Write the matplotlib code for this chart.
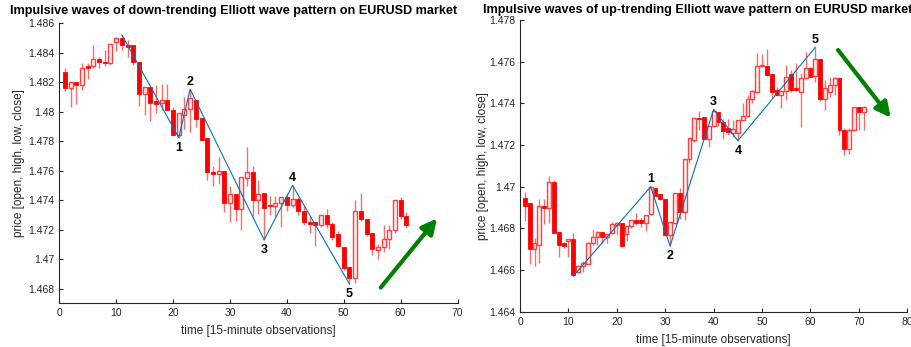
import numpy as np
import matplotlib
matplotlib.use("Agg")
import matplotlib.pyplot as plt

plt.rcParams['font.family'] = ['Liberation Sans', 'DejaVu Sans']

# EURUSD 15-minute candles, down-trending impulse
down_t = list(range(1, 62))
down_open = [1.4827, 1.4816, 1.4820, 1.4818, 1.4831, 1.4831, 1.4836, 1.4834, 1.4833, 1.4847,
             1.4850, 1.4845, 1.4845, 1.4834, 1.4812, 1.4817, 1.4807, 1.4806, 1.4808, 1.4801,
             1.4784, 1.4798, 1.4802, 1.4808, 1.4796, 1.4782, 1.4759, 1.4758, 1.4760, 1.4738,
             1.4744, 1.4734, 1.4755, 1.4759, 1.4740, 1.4745, 1.4737, 1.4736, 1.4738, 1.4742,
             1.4737, 1.4741, 1.4733, 1.4725, 1.4725, 1.4723, 1.4730, 1.4724, 1.4717, 1.4708,
             1.4695, 1.4687, 1.4733, 1.4727, 1.4718, 1.4706, 1.4708, 1.4714, 1.4720, 1.4740,
             1.4729]
down_high = [1.4830, 1.4820, 1.4820, 1.4833, 1.4833, 1.4845, 1.4837, 1.4842, 1.4846, 1.4851,
             1.48521, 1.4849, 1.4845, 1.4834, 1.4817, 1.4817, 1.4818, 1.4819, 1.4819, 1.4803,
             1.4799, 1.4810, 1.48153, 1.4808, 1.4796, 1.4782, 1.4763, 1.4769, 1.4760, 1.4750,
             1.4744, 1.4756, 1.4776, 1.4763, 1.4754, 1.4745, 1.4743, 1.4743, 1.4742, 1.4744,
             1.47501, 1.4742, 1.4737, 1.4729, 1.4725, 1.4730, 1.4734, 1.4725, 1.4719, 1.4708,
             1.4695, 1.4740, 1.4745, 1.4727, 1.4718, 1.4710, 1.4723, 1.4723, 1.4740, 1.4742,
             1.4732]
down_low = [1.4814, 1.4803, 1.4805, 1.4815, 1.4822, 1.4830, 1.4830, 1.4831, 1.4832, 1.4841,
            1.4842, 1.4837, 1.4832, 1.4804, 1.4798, 1.4794, 1.4799, 1.4801, 1.4801, 1.4784,
            1.47825, 1.4788, 1.4786, 1.4790, 1.4781, 1.4754, 1.4750, 1.4751, 1.4732, 1.4725,
            1.4726, 1.4720, 1.4750, 1.4729, 1.4731, 1.47131, 1.4730, 1.4729, 1.4722, 1.4733,
            1.4735, 1.4730, 1.4723, 1.4718, 1.4709, 1.4722, 1.4721, 1.4713, 1.4708, 1.4693,
            1.46832, 1.4684, 1.4726, 1.4716, 1.4703, 1.4700, 1.4705, 1.4707, 1.4718, 1.4727,
            1.4721]
down_close = [1.4816, 1.4820, 1.4818, 1.4830, 1.4830, 1.4836, 1.4834, 1.4833, 1.4846, 1.4850,
              1.4845, 1.4844, 1.4834, 1.4812, 1.4817, 1.4806, 1.4805, 1.4808, 1.4801, 1.4784,
              1.4799, 1.4802, 1.4809, 1.4795, 1.4781, 1.4759, 1.4758, 1.4760, 1.4738, 1.4744,
              1.4734, 1.4756, 1.4759, 1.4740, 1.4744, 1.4735, 1.4736, 1.4738, 1.4742, 1.4737,
              1.4741, 1.4733, 1.4725, 1.4724, 1.4723, 1.4730, 1.4724, 1.4715, 1.4709, 1.4694,
              1.4687, 1.4733, 1.4727, 1.4717, 1.4707, 1.4708, 1.4714, 1.4720, 1.4740, 1.4729,
              1.4723]
down_wave_t = [11, 21, 23, 36, 41, 51]
down_wave_p = [1.48521, 1.47825, 1.48153, 1.47131, 1.47501, 1.46832]
down_arrow_t = [56.5, 66.4]
down_arrow_p = [1.46808, 1.47277]

# EURUSD 15-minute candles, up-trending impulse
up_t = list(range(1, 72))
up_open = [1.46944, 1.46920, 1.46699, 1.46720, 1.46909, 1.46899, 1.47021, 1.46781, 1.46731, 1.46741,
           1.46750, 1.46592, 1.46619, 1.46629, 1.46731, 1.46760, 1.46784, 1.46760, 1.46779, 1.46816,
           1.46824, 1.46773, 1.46811, 1.46840, 1.46840, 1.46827, 1.46869, 1.46992, 1.46965, 1.46939,
           1.46768, 1.46827, 1.46971, 1.46880, 1.47131, 1.47224, 1.47331, 1.47333, 1.47227, 1.47291,
           1.47360, 1.47312, 1.47280, 1.47256, 1.47259, 1.47320, 1.47339, 1.47419, 1.47456, 1.47580,
           1.47579, 1.47541, 1.47464, 1.47440, 1.47461, 1.47539, 1.47472, 1.47456, 1.47520, 1.47568,
           1.47531, 1.47611, 1.47419, 1.47456, 1.47488, 1.47520, 1.47272, 1.47179, 1.47272, 1.47381,
           1.47358]
up_high = [1.46973, 1.46920, 1.46752, 1.46941, 1.46940, 1.47051, 1.47030, 1.46781, 1.46736, 1.46750,
           1.46779, 1.46624, 1.46643, 1.46736, 1.46792, 1.46789, 1.46784, 1.46773, 1.46832, 1.46832,
           1.46824, 1.46811, 1.46840, 1.46872, 1.46848, 1.46864, 1.47000, 1.46992, 1.46965, 1.46939,
           1.46832, 1.46971, 1.46992, 1.47131, 1.47232, 1.47328, 1.47365, 1.47333, 1.47291, 1.47371,
           1.47360, 1.47323, 1.47323, 1.47320, 1.47320, 1.47403, 1.47440, 1.47464, 1.47640, 1.47637,
           1.47659, 1.47541, 1.47480, 1.47464, 1.47584, 1.47560, 1.47592, 1.47544, 1.47648, 1.47573,
           1.47669, 1.47611, 1.47512, 1.47528, 1.47525, 1.47520, 1.47280, 1.47280, 1.47381, 1.47381,
           1.47387]
up_low = [1.46837, 1.46629, 1.46619, 1.46635, 1.46821, 1.46824, 1.46776, 1.46661, 1.46704, 1.46661,
          1.46571, 1.46584, 1.46592, 1.46629, 1.46720, 1.46720, 1.46728, 1.46728, 1.46773, 1.46768,
          1.46709, 1.46741, 1.46800, 1.46816, 1.46805, 1.46789, 1.46864, 1.46952, 1.46936, 1.46763,
          1.46715, 1.46820, 1.46843, 1.46840, 1.47115, 1.47216, 1.47272, 1.47227, 1.47189, 1.47285,
          1.47291, 1.47227, 1.47248, 1.47240, 1.47221, 1.47320, 1.47333, 1.47400, 1.47448, 1.47576,
          1.47531, 1.47424, 1.47435, 1.47376, 1.47416, 1.47456, 1.47461, 1.47288, 1.47515, 1.47528,
          1.47504, 1.47413, 1.47368, 1.47429, 1.47440, 1.47248, 1.47152, 1.47157, 1.47269, 1.47272,
          1.47272]
up_close = [1.46907, 1.46699, 1.46731, 1.46909, 1.46899, 1.47021, 1.46779, 1.46720, 1.46715, 1.46750,
            1.46576, 1.46619, 1.46632, 1.46731, 1.46760, 1.46784, 1.46760, 1.46773, 1.46821, 1.46824,
            1.46715, 1.46811, 1.46840, 1.46827, 1.46827, 1.46864, 1.46997, 1.46955, 1.46939, 1.46768,
            1.46832, 1.46971, 1.46880, 1.47131, 1.47232, 1.47328, 1.47323, 1.47227, 1.47291, 1.47363,
            1.47312, 1.47269, 1.47264, 1.47275, 1.47320, 1.47339, 1.47419, 1.47461, 1.47579, 1.47584,
            1.47536, 1.47456, 1.47440, 1.47461, 1.47528, 1.47464, 1.47464, 1.47520, 1.47568, 1.47528,
            1.47611, 1.47419, 1.47472, 1.47488, 1.47520, 1.47272, 1.47179, 1.47272, 1.47381, 1.47358,
            1.47381]
up_wave_t = [11, 27, 31, 40, 45, 61]
up_wave_p = [1.46571, 1.47000, 1.46715, 1.47371, 1.47221, 1.47669]
up_arrow_t = [65.7, 76.6]
up_arrow_p = [1.47656, 1.47331]

wave_names = ['1', '2', '3', '4', '5']

AX_GRAY = (0.15, 0.15, 0.15)
RED = (1.0, 0.0, 0.0)
WICK = (1.0, 0.42, 0.42)
WAVE_BLUE = '#0072BD'
GREEN = (0.0, 0.5, 0.0)


def draw_candles(ax, t, o, h, l, c, width):
    t = np.asarray(t, float)
    o, h, l, c = (np.asarray(v, float) for v in (o, h, l, c))
    ax.vlines(t, l, h, color=WICK, lw=1.0, zorder=1)
    lo = np.minimum(o, c)
    hi = np.maximum(o, c)
    size = np.maximum(hi - lo, 0.00004)
    up = c >= o
    ax.bar(t[~up], size[~up], width=width, bottom=lo[~up], color=RED,
           edgecolor=RED, lw=0.6, zorder=2)
    ax.bar(t[up], size[up], width=width, bottom=lo[up], facecolor='#ffeeee',
           edgecolor=(1.0, 0.25, 0.25), lw=1.0, zorder=2)


def style_axes(ax, xmax, ylo, yhi, yticks, ypad):
    ax.set_xlim(0, xmax)
    ax.set_ylim(ylo, yhi)
    ax.set_xticks(np.arange(0, xmax + 1, 10))
    ax.set_yticks(yticks)
    ax.set_yticklabels([('%.3f' % v).rstrip('0') for v in yticks])
    for side in ('top', 'right'):
        ax.spines[side].set_visible(False)
    for side in ('left', 'bottom'):
        ax.spines[side].set_color(AX_GRAY)
        ax.spines[side].set_linewidth(0.8)
    ax.tick_params(direction='in', length=3, width=0.8, colors=AX_GRAY,
                   labelsize=7.5, labelcolor=AX_GRAY)
    ax.set_xlabel('time [15-minute observations]', fontsize=8.5, color=AX_GRAY, labelpad=5)
    ax.set_ylabel('price [open, high, low, close]', fontsize=8.5, color=AX_GRAY, labelpad=ypad)


def draw_waves(ax, wt, wp, first_low):
    ax.plot(wt, wp, color=WAVE_BLUE, lw=0.8, zorder=3)
    for k, name in enumerate(wave_names):
        is_low = (k % 2 == 0) == first_low
        dy = -7.5 if is_low else 5.5
        ax.annotate(name, (wt[k + 1], wp[k + 1]), xytext=(0, dy), textcoords='offset points',
                    ha='center', va='center', fontsize=9, fontweight='bold', color='black')


def draw_arrow(ax, at, ap):
    ax.annotate('', xy=(at[1], ap[1]), xytext=(at[0], ap[0]),
                arrowprops=dict(arrowstyle='-|>,head_length=0.9,head_width=0.45',
                                color=GREEN, lw=3, shrinkA=0, shrinkB=0))


fig = plt.figure(figsize=(9.12, 3.47), dpi=100)

ax1 = fig.add_axes([0.065, 0.1254, 0.4367, 0.8075])
draw_candles(ax1, down_t, down_open, down_high, down_low, down_close, 0.7)
draw_waves(ax1, down_wave_t, down_wave_p, first_low=True)
draw_arrow(ax1, down_arrow_t, down_arrow_p)
style_axes(ax1, 70, 1.467, 1.486, np.arange(1.468, 1.4861, 0.002), 2.5)

ax2 = fig.add_axes([0.5702, 0.1017, 0.4246, 0.8406])
draw_candles(ax2, up_t, up_open, up_high, up_low, up_close, 0.8)
draw_waves(ax2, up_wave_t, up_wave_p, first_low=False)
draw_arrow(ax2, up_arrow_t, up_arrow_p)
style_axes(ax2, 80, 1.464, 1.478, np.arange(1.464, 1.4781, 0.002), 0)

fig.text(10 / 912, 1 - 11 / 347, 'Impulsive waves of down-trending Elliott wave pattern on EURUSD market',
         ha='left', va='center', fontsize=9.05, fontweight='bold')
fig.text(483 / 912, 1 - 10 / 347, 'Impulsive waves of up-trending Elliott wave pattern on EURUSD market',
         ha='left', va='center', fontsize=9.05, fontweight='bold')

fig.savefig('out.png', dpi=100)
